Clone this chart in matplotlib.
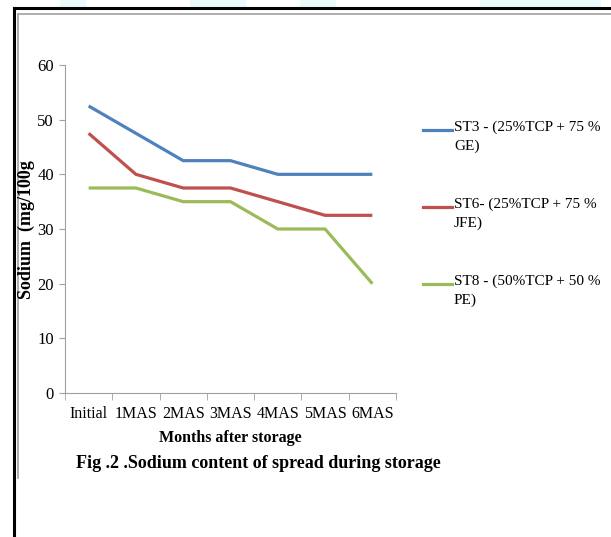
import matplotlib.pyplot as plt
from matplotlib.lines import Line2D
from matplotlib.patches import Rectangle

months = ["Initial", "1MAS", "2MAS", "3MAS", "4MAS", "5MAS", "6MAS"]
st3 = [52.5, 47.5, 42.5, 42.5, 40, 40, 40]
st6 = [47.5, 40, 37.5, 37.5, 35, 32.5, 32.5]
st8 = [37.5, 37.5, 35, 35, 30, 30, 20]
labels = ["ST3 - (25%TCP + 75 %\nGE)", "ST6- (25%TCP + 75 %\nJFE)", "ST8 - (50%TCP + 50 %\nPE)"]
colors = ["#4F81BD", "#C0504D", "#9BBB59"]

plt.rcParams["font.family"] = ["Liberation Serif", "DejaVu Serif"]

W, H = 611, 537
fig = plt.figure(figsize=(W / 100, H / 100), dpi=100)

# faint cyan bits above the frame
for x0, x1 in [(60, 85), (190, 245), (300, 335), (480, 600)]:
    fig.patches.append(Rectangle((x0 / W, 1 - 8 / H), (x1 - x0) / W, 8 / H,
                                 transform=fig.transFigure, color="#eafafc", zorder=0))
# black frame and gray inner line
fig.add_artist(Line2D([14 / W, 14 / W], [0, 1 - 8 / H], color="black", lw=2.2))
fig.add_artist(Line2D([14 / W, 1], [1 - 8 / H, 1 - 8 / H], color="black", lw=2.2))
fig.add_artist(Line2D([18 / W, 1], [1 - 14 / H, 1 - 14 / H], color="#a0a0a0", lw=1.2))
fig.add_artist(Line2D([18 / W, 18 / W], [1 - 478 / H, 1 - 14 / H], color="#a0a0a0", lw=1.2))

ax = fig.add_axes([65 / W, 1 - 393 / H, (396 - 65) / W, (393 - 65) / H])
x = range(len(months))
for vals, c in zip([st3, st6, st8], colors):
    ax.plot(x, vals, color=c, lw=2.3, solid_capstyle="butt")

ax.set_xlim(-0.5, len(months) - 0.5)
ax.set_ylim(0, 60)
ax.set_yticks(range(0, 61, 10))
ax.set_xticks(list(x))
ax.set_xticklabels(months, fontsize=11.5)
ax.set_xticks([i - 0.5 for i in range(len(months) + 1)], minor=True)
ax.tick_params(axis="x", which="major", length=0, pad=9)
ax.tick_params(axis="x", which="minor", length=5, color="#a0a0a0")
ax.tick_params(axis="y", length=4, color="#a0a0a0", labelsize=12, pad=4)
for s in ["top", "right"]:
    ax.spines[s].set_visible(False)
for s in ["left", "bottom"]:
    ax.spines[s].set_color("#a0a0a0")

ax.set_xlabel("Months after storage", fontsize=11.5, fontweight="bold", labelpad=6)
fig.text(26 / W, 1 - 230 / H, "Sodium  (mg/100g", rotation=90, fontsize=13,
         fontweight="bold", ha="center", va="center")

# legend
for i, (lab, c) in enumerate(zip(labels, colors)):
    yy = 130 + 77 * i
    fig.add_artist(Line2D([423 / W, 452 / W], [1 - yy / H, 1 - yy / H], color=c, lw=2.3))
    fig.text(454 / W, 1 - (yy - 9) / H, lab, fontsize=11, va="top", ha="left",
             linespacing=1.45)

fig.text(258 / W, 1 - 463 / H, "Fig .2 .Sodium content of spread during storage",
         fontsize=13, fontweight="bold", ha="center", va="center")

fig.savefig("out.png", dpi=100)
